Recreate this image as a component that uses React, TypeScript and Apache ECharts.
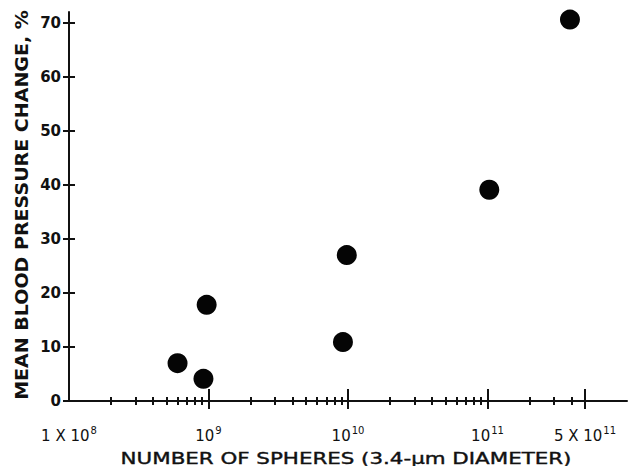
import React, { useEffect, useRef } from "react";
import * as echarts from "echarts";

// Data
const sphereCounts = [6.0e8, 9.2e8, 9.7e8, 9.2e9, 9.8e9, 1.03e11, 3.9e11];
const pressureChange = [7.0, 4.1, 17.8, 10.9, 27.0, 39.1, 70.6];

// Axis ticks / labels
const xLabelValues = [1e8, 1e9, 1e10, 1e11, 5e11];
const xLabelMantissa = ["1 X ", "", "", "", "5 X "];
const xLabelExponent = ["8", "9", "10", "11", "11"];
const xMajorTickValues = [1e9, 1e10, 1e11, 5e11];
const xMinorTickValues = [
  2e8, 3e8, 4e8, 5e8, 6e8, 7e8, 8e8, 9e8,
  2e9, 3e9, 4e9, 5e9, 6e9, 7e9, 8e9, 9e9,
  2e10, 3e10, 4e10, 5e10, 6e10, 7e10, 8e10, 9e10,
  2e11, 3e11, 4e11,
];
const yTickValues = [0, 10, 20, 30, 40, 50, 60, 70];

const xTitle = "NUMBER OF SPHERES (3.4-\u03bcm DIAMETER)";
const yTitle = "MEAN BLOOD PRESSURE CHANGE, %";

const X_MIN = 1e8;
const X_MAX = 1e12;
const Y_MAX = 72;

const FONT = "'DejaVu Sans', 'Liberation Sans', Arial, sans-serif";
const INK = "#111111";

const lg = (v: number) => Math.log10(v);

function measure(text: string, font: string): number {
  const c = document.createElement("canvas").getContext("2d");
  if (!c) return 0;
  c.font = font;
  return c.measureText(text).width;
}

export default function App() {
  const ref = useRef<HTMLDivElement>(null);

  useEffect(() => {
    if (!ref.current) return;
    const chart = echarts.init(ref.current, undefined, { renderer: "svg" });

    const baseX = (extra: any) => ({
      type: "value",
      position: "bottom",
      min: lg(X_MIN),
      max: lg(X_MAX),
      gridIndex: 0,
      axisLine: { show: false },
      splitLine: { show: false },
      axisLabel: { show: false },
      ...extra,
    });

    const baseY = (extra: any) => ({
      type: "value",
      position: "left",
      min: 0,
      max: Y_MAX,
      gridIndex: 0,
      axisLine: { show: false },
      splitLine: { show: false },
      axisLabel: { show: false },
      ...extra,
    });

    const labelFormatter = (val: number) => {
      const i = xLabelValues.findIndex((v) => Math.abs(lg(v) - val) < 1e-6);
      if (i < 0) return "";
      const m = xLabelMantissa[i];
      return (m ? "{b|" + m + "10}" : "{b|10}") + "{s|" + xLabelExponent[i] + "}";
    };

    const xTitleFont = "16px " + FONT;
    const yTitleFont = "bold 18px " + FONT;
    const xw = measure(xTitle, xTitleFont) || 400;
    const yw = measure(yTitle, yTitleFont) || 380;
    const xScale = 451 / xw;
    const yScale = 390 / yw;

    const option: any = {
      animation: false,
      backgroundColor: "#ffffff",
      grid: {
        left: 69,
        right: 3,
        top: 12,
        bottom: 65,
        containLabel: false,
        outerBoundsMode: "none",
      },
      graphic: [
        {
          type: "text",
          x: 346,
          y: 458,
          scaleX: xScale,
          style: {
            text: xTitle,
            font: xTitleFont,
            fill: INK,
            stroke: INK,
            lineWidth: 0.4,
            align: "center",
            verticalAlign: "middle",
          },
        },
        {
          type: "text",
          x: 22,
          y: 205,
          rotation: Math.PI / 2,
          scaleX: yScale,
          style: {
            text: yTitle,
            font: yTitleFont,
            fill: INK,
            align: "center",
            verticalAlign: "middle",
          },
        },
      ],
      xAxis: [
        baseX({
          axisLine: { show: true, lineStyle: { color: INK, width: 2 } },
          axisTick: {
            show: true,
            inside: true,
            length: 12,
            lineStyle: { color: INK, width: 2 },
            customValues: xMajorTickValues.map(lg),
          },
          axisLabel: {
            show: true,
            margin: 24,
            customValues: xLabelValues.map(lg),
            formatter: labelFormatter,
            color: INK,
            rich: {
              b: { fontFamily: FONT, fontSize: 15, color: INK, verticalAlign: "bottom", lineHeight: 18 },
              s: { fontFamily: FONT, fontSize: 10, color: INK, verticalAlign: "top", lineHeight: 18, padding: [0, 0, 8, 1] },
            },
          },
        }),
        baseX({
          axisTick: {
            show: true,
            inside: false,
            length: 8,
            lineStyle: { color: INK, width: 2 },
            customValues: xMajorTickValues.map(lg),
          },
        }),
        baseX({
          axisTick: {
            show: true,
            inside: true,
            length: 4,
            lineStyle: { color: INK, width: 2 },
            customValues: xMinorTickValues.map(lg),
          },
        }),
        baseX({
          axisTick: {
            show: true,
            inside: false,
            length: 4,
            lineStyle: { color: INK, width: 2 },
            customValues: xMinorTickValues.map(lg),
          },
        }),
      ],
      yAxis: [
        baseY({
          axisLine: { show: true, lineStyle: { color: INK, width: 2 } },
          axisTick: {
            show: true,
            inside: false,
            length: 6,
            lineStyle: { color: INK, width: 2 },
            customValues: yTickValues,
          },
          axisLabel: {
            show: true,
            margin: 8,
            customValues: yTickValues,
            color: INK,
            fontFamily: FONT,
            fontSize: 15,
            fontWeight: "bold",
          },
        }),
        baseY({
          axisTick: {
            show: true,
            inside: true,
            length: 6,
            lineStyle: { color: INK, width: 2 },
            customValues: yTickValues,
          },
        }),
      ],
      series: [
        {
          type: "scatter",
          xAxisIndex: 0,
          yAxisIndex: 0,
          symbol: "circle",
          symbolSize: 20,
          itemStyle: { color: "#050505", opacity: 1 },
          data: sphereCounts.map((x, i) => [lg(x), pressureChange[i]]),
        },
      ],
    };

    chart.setOption(option);
    return () => chart.dispose();
  }, []);

  return (
    <div
      ref={ref}
      style={{ position: "fixed", left: 0, top: 0, width: 630, height: 466 }}
    />
  );
}
